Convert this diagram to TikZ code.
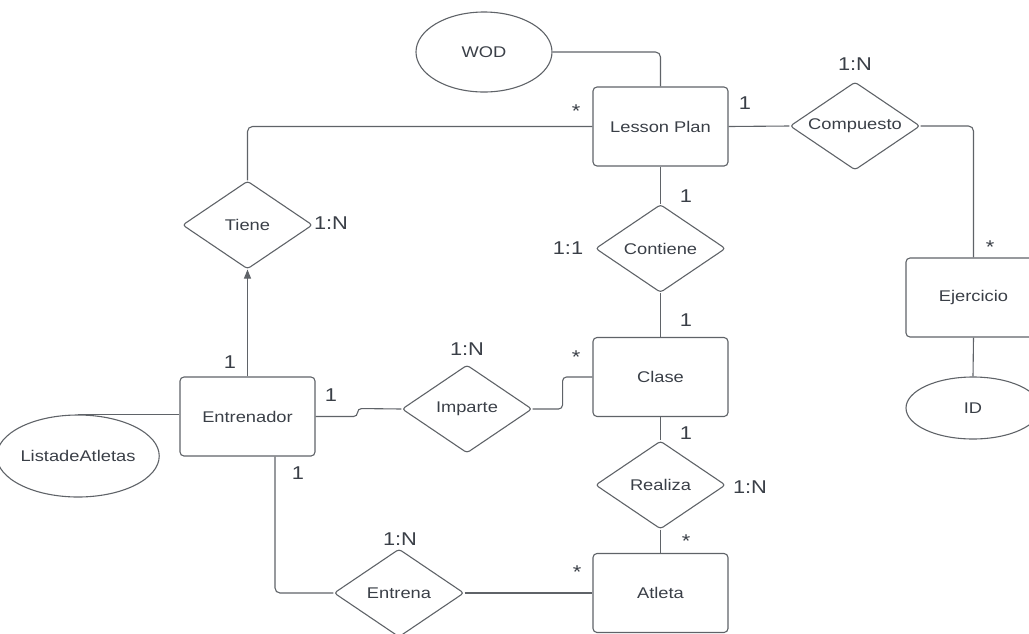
\documentclass[tikz,border=0pt]{standalone}
\usepackage{fontspec}
\setmainfont{Liberation Sans}[FakeStretch=1.18]
\usetikzlibrary{shapes.geometric,arrows.meta}
\definecolor{ln}{HTML}{5F6368}
\definecolor{tx}{HTML}{3A3F47}
\begin{document}
\begin{tikzpicture}[x=1pt,y=-1pt,
  ent/.style={draw=ln, line width=1.1pt, rounded corners=4pt, minimum width=135pt, minimum height=79pt, text=tx, font=\fontsize{15.5}{18}\selectfont},
  rel/.style={draw=ln, line width=1.1pt, diamond, shape aspect=1.48, inner sep=0pt, minimum width=130pt, minimum height=88pt, rounded corners=3pt, text=tx, font=\fontsize{15.5}{18}\selectfont},
  attr/.style={draw=ln, line width=1.1pt, ellipse, inner sep=0pt, text=tx, font=\fontsize{15.5}{18}\selectfont},
  conn/.style={draw=ln, line width=1.1pt, rounded corners=5pt},
  lab/.style={text=tx, inner sep=0pt, font=\fontsize{18.5}{20}\selectfont}]
\clip (0,0) rectangle (1029,633);
\useasboundingbox (0,0) rectangle (1029,633);

% entities
\node[ent] (LP) at (660.5,126.5) {Lesson Plan};
\node[ent] (Ej) at (973.5,297.5) {Ejercicio};
\node[ent] (Entr) at (247.5,416.5) {Entrenador};
\node[ent] (Clase) at (660.5,377) {Clase};
\node[ent] (Atl) at (660.5,593) {Atleta};

% attributes
\node[attr, minimum width=136pt, minimum height=80pt] (WOD) at (484,52) {WOD};
\node[attr, minimum width=134pt, minimum height=62pt] (ID) at (973,408) {ID};
\node[attr, minimum width=130pt, minimum height=82pt] (Lista) at (78,456) {ListadeAtletas};

% relationships
\node[rel] (Comp) at (855,126) {Compuesto};
\node[rel] (Tiene) at (247.5,225) {Tiene};
\node[rel] (Cont) at (660.5,248.5) {Contiene};
\node[rel] (Imp) at (467,409) {Imparte};
\node[rel] (Real) at (660.5,485) {Realiza};
\node[rel] (Entrena) at (399,593) {Entrena};

% connectors
\draw[conn] (WOD.east) -| (LP.north);
\draw[conn] (LP.west) -| (Tiene.north);
\draw[conn] (LP.east) -- (Comp.west);
\draw[conn] (Comp.east) -| (Ej.north);
\draw[conn] (Ej.south) -- (ID.north);
\draw[conn] (LP.south) -- (Cont.north);
\draw[conn] (Cont.south) -- (Clase.north);
\draw[conn] (Clase.south) -- (Real.north);
\draw[conn] (Real.south) -- (Atl.north);
\draw[conn, -{Triangle[length=9pt,width=7pt]}] (Entr.north) -- (Tiene.south);
\draw[conn] (Lista.north) -- (Lista.north -| Entr.west);
\draw[conn, rounded corners=4pt] (Entr.east) -- ++(42,0) -- ++(0,-8) -- (Imp.west);
\draw[conn, rounded corners=4pt] (Imp.east) -- ++(30,0) |- (Clase.west);
\draw[conn] ([xshift=27.5pt]Entr.south) |- (Entrena.west);
\draw[conn] (Entrena.east) -- (Atl.west);

% cardinality labels
\node[lab] (l1) at (855,64) {1:N};
\node[lab] (l2) at (745,103) {1};
\node[lab] (l3) at (576,111) {*};
\node[lab] (l4) at (331,223) {1:N};
\node[lab] (l5) at (686,196) {1};
\node[lab] (l6) at (568,248) {1:1};
\node[lab] (l7) at (686,320) {1};
\node[lab] (l8) at (990,247) {*};
\node[lab] (l9) at (230,362) {1};
\node[lab] (l10) at (331,395) {1};
\node[lab] (l11) at (467,349) {1:N};
\node[lab] (l12) at (576,357) {*};
\node[lab] (l13) at (686,433) {1};
\node[lab] (l14) at (750,487) {1:N};
\node[lab] (l15) at (686,541) {*};
\node[lab] (l16) at (298,473) {1};
\node[lab] (l17) at (400,539) {1:N};
\node[lab] (l18) at (577,572) {*};
\end{tikzpicture}
\end{document}
